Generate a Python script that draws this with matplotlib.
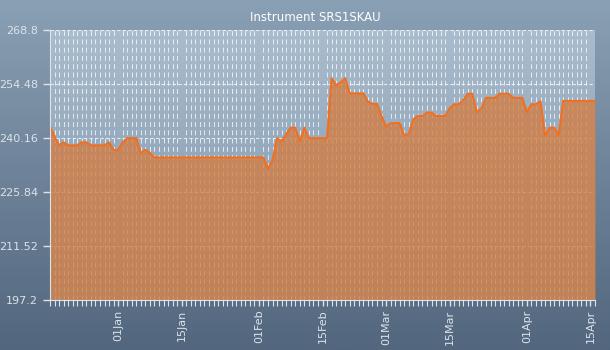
import numpy as np
import pandas as pd
import matplotlib
matplotlib.use('Agg')
import matplotlib.pyplot as plt
import matplotlib.dates as mdates
from matplotlib.colors import LinearSegmentedColormap

# Datos (un valor por dia)
dates = pd.date_range('2013-12-17', periods=121, freq='D')
values = [
    243.3, 240.5, 238.2, 239.0, 238.2, 238.2, 238.2, 239.0, 239.0, 238.2,
    238.2, 238.2, 238.2, 239.0, 237.0, 237.0, 239.0, 240.1, 240.1, 240.1,
    236.2, 237.0, 236.2, 235.0, 235.0, 235.0, 235.0, 235.0, 235.0, 235.0,
    235.0, 235.0, 235.0, 235.0, 235.0, 235.0, 235.0, 235.0, 235.0, 235.0,
    235.0, 235.0, 235.0, 235.0, 235.0, 235.0, 235.0, 235.0, 232.1, 234.3,
    240.1, 239.2, 241.2, 242.9, 242.9, 239.2, 242.9, 240.1, 240.1, 240.1,
    240.1, 240.1, 256.0, 254.2, 254.9, 256.0, 252.0, 252.0, 252.0, 252.0,
    249.8, 249.2, 249.2, 246.0, 243.2, 244.1, 244.1, 244.1, 240.9, 241.2,
    245.1, 246.0, 246.0, 246.9, 246.9, 246.0, 246.0, 246.0, 248.0, 249.1,
    249.1, 250.2, 251.9, 251.9, 247.0, 248.0, 250.8, 250.8, 250.8, 251.9,
    251.9, 251.9, 250.8, 250.8, 250.8, 247.0, 249.1, 249.1, 249.9, 240.9,
    242.9, 242.9, 240.9, 250.0, 250.0, 250.0, 250.0, 250.0, 250.0, 250.0,
    250.0,
]
y_ticks = [197.2, 211.52, 225.84, 240.16, 254.48, 268.8]
y_labels = ['197.2', '211.52', '225.84', '240.16', '254.48', '268.8']
title = 'Instrument SRS1SKAU'

fig = plt.figure(figsize=(6.1, 3.5), dpi=100)

# Fondo degradado de la figura
bg = fig.add_axes([0, 0, 1, 1], zorder=-10)
bg_cmap = LinearSegmentedColormap.from_list('bg', ['#52667d', '#8aa0b4'])
bg.imshow(np.linspace(0, 1, 256).reshape(-1, 1), aspect='auto', cmap=bg_cmap,
          origin='lower', extent=[0, 1, 0, 1])
bg.axis('off')

ax = fig.add_axes([50 / 610, 50 / 350, 545 / 610, 270 / 350])
ax.set_facecolor('none')

# Fondo degradado del area de grafico
pa_cmap = LinearSegmentedColormap.from_list('pa', ['#7d93a9', '#aabdce'])
ax.imshow(np.linspace(0, 1, 256).reshape(-1, 1), aspect='auto', cmap=pa_cmap,
          origin='lower', extent=[0, 1, 0, 1], transform=ax.transAxes, zorder=0)

x = mdates.date2num(dates)
ax.fill_between(x, values, 197.2, color='#d27e45', alpha=0.8, lw=0, zorder=3)
ax.plot(x, values, color='#f26f1f', lw=1.5, zorder=4)

ax.set_xlim(x[0], x[-1])
ax.set_ylim(197.2, 268.8)

ax.set_yticks(y_ticks)
ax.set_yticklabels(y_labels)
ax.xaxis.set_major_locator(mdates.DayLocator(bymonthday=[1, 15]))
ax.xaxis.set_major_formatter(mdates.DateFormatter('%d%b'))
ax.xaxis.set_minor_locator(mdates.DayLocator())

ax.grid(True, which='major', axis='y', color='white', ls=(0, (3, 2)), lw=0.8, alpha=0.75, zorder=1)
ax.grid(True, which='minor', axis='x', color='white', ls=(0, (5, 3.5)), lw=0.7, alpha=0.75, zorder=1)
ax.grid(False, which='major', axis='x')
ax.set_axisbelow(True)

for s in ['top', 'right']:
    ax.spines[s].set_visible(False)
for s in ['left', 'bottom']:
    ax.spines[s].set_color('#dce3ea')
    ax.spines[s].set_zorder(5)

ax.tick_params(axis='y', colors='#dce3ea', labelsize=8, length=5, width=1)
ax.tick_params(axis='x', which='major', colors='#dce3ea', labelsize=8,
               length=4, width=1, labelrotation=90, pad=3)
ax.tick_params(axis='x', which='minor', colors='#dce3ea', length=4, width=0.8)

fig.text(315 / 610, 0.95, title, ha='center', va='center', color='white', fontsize=8.5)

fig.savefig('out.png', dpi=100)
